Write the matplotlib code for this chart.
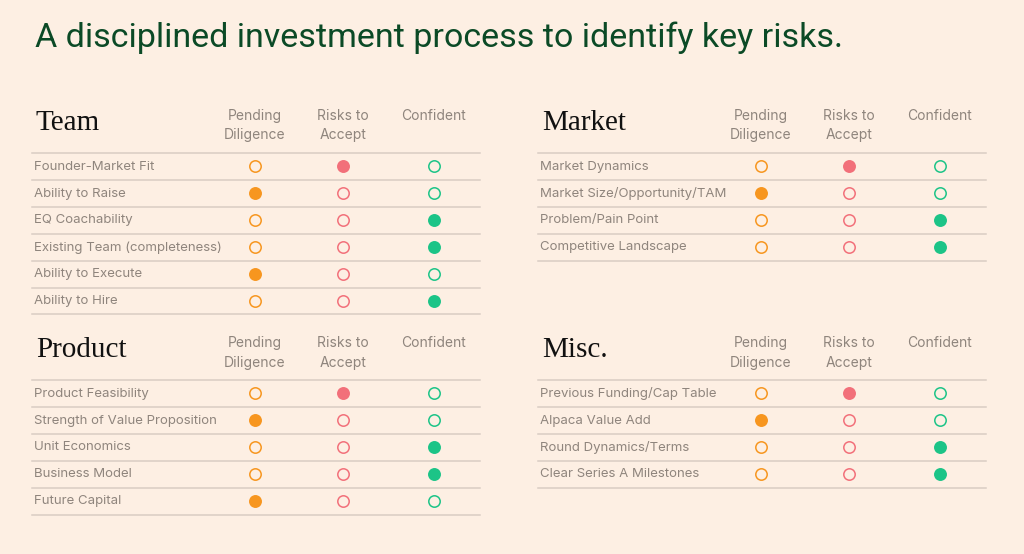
import matplotlib

matplotlib.use("Agg")
import matplotlib.pyplot as plt

# status codes: 0 = pending diligence, 1 = risks to accept, 2 = confident
team_items = ["Founder-Market Fit", "Ability to Raise", "EQ Coachability",
              "Existing Team (completeness)", "Ability to Execute", "Ability to Hire"]
team_status = [1, 0, 2, 2, 0, 2]

market_items = ["Market Dynamics", "Market Size/Opportunity/TAM",
                "Problem/Pain Point", "Competitive Landscape"]
market_status = [1, 0, 2, 2]

product_items = ["Product Feasibility", "Strength of Value Proposition",
                 "Unit Economics", "Business Model", "Future Capital"]
product_status = [1, 0, 2, 2, 0]

misc_items = ["Previous Funding/Cap Table", "Alpaca Value Add",
              "Round Dynamics/Terms", "Clear Series A Milestones"]
misc_status = [1, 0, 2, 2]

columns = ["Pending\nDiligence", "Risks to\nAccept", "Confident"]
col_colors = ["#f7961f", "#f2707a", "#1cc487"]

title = "A disciplined investment process to identify key risks."

BG = "#fdefe3"
GREEN = "#0b4a26"
GRAY = "#8f857d"
LINE = "#d9cdc3"

# panel layout in pixel space (left, top)
panels = [
    ("Team", team_items, team_status, 32, 100),
    ("Market", market_items, market_status, 538, 100),
    ("Product", product_items, product_status, 32, 327),
    ("Misc.", misc_items, misc_status, 538, 327),
]
col_offsets = [223, 311, 402]
row_h = 26.9
width = 448

fig = plt.figure(figsize=(10.24, 5.54), dpi=100, facecolor=BG)
ax = fig.add_axes([0, 0, 1, 1])
ax.set_xlim(0, 1024)
ax.set_ylim(554, 0)
ax.axis("off")
ax.set_facecolor(BG)

ax.text(35, 47, title, fontsize=24.5, color=GREEN, family="Roboto",
        va="baseline", ha="left")

for name, items, status, x0, y0 in panels:
    ax.text(x0 + 4, y0 + 30, name, fontsize=21, color="#111111",
            family="Liberation Serif", va="baseline", ha="left")
    for j, col in enumerate(columns):
        ax.text(x0 + col_offsets[j], y0 + 9, col, fontsize=10, color=GRAY,
                family="Inter", va="top", ha="center", linespacing=1.5)
    top = y0 + 53
    ax.plot([x0, x0 + width], [top, top], color=LINE, lw=1.1)
    for i, (item, st) in enumerate(zip(items, status)):
        yc = top + row_h * (i + 0.45)
        ax.text(x0 + 2, yc + 1.5, item, fontsize=9.5, color=GRAY, family="Inter",
                va="center", ha="left")
        for j in range(3):
            c = col_colors[j]
            ax.plot(x0 + col_offsets[j], yc + 1, "o", ms=8.2,
                    mfc=c if j == st else "none", mec=c, mew=1.1)
        yl = top + row_h * (i + 1)
        ax.plot([x0, x0 + width], [yl, yl], color=LINE, lw=1.1)

fig.savefig("out.png", dpi=100, facecolor=BG)
